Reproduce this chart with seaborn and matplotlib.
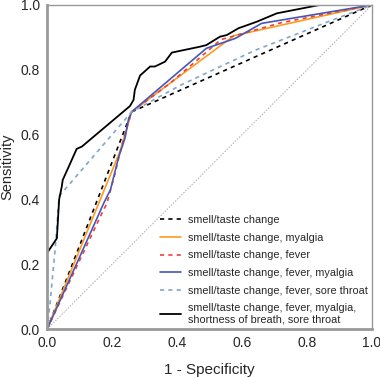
import numpy as np
import pandas as pd
import matplotlib
matplotlib.use('Agg')
import matplotlib.pyplot as plt
import seaborn as sns

sns.set_style('white')
plt.rcParams['font.family'] = ['Liberation Sans', 'DejaVu Sans']

# ROC curves (x = 1 - specificity, y = sensitivity)
smell_x = [0, 0.26, 1]
smell_y = [0, 0.67, 1]

myalgia_x = [0, 0.163, 0.225, 0.26, 0.41, 0.575, 1]
myalgia_y = [0, 0.398, 0.55, 0.67, 0.782, 0.905, 1]

fever_x = [0, 0.17, 0.184, 0.209, 0.23, 0.26, 0.378, 0.535, 0.72, 1]
fever_y = [0, 0.36, 0.388, 0.48, 0.568, 0.67, 0.758, 0.893, 0.945, 1]

fever_my_x = [0, 0.09, 0.175, 0.195, 0.22, 0.24, 0.25, 0.26, 0.49, 0.58, 0.66, 1]
fever_my_y = [0, 0.2, 0.39, 0.43, 0.53, 0.59, 0.645, 0.67, 0.866, 0.897, 0.943, 1]

sore_x = [0, 0.009, 0.025, 0.037, 0.26, 0.41, 0.64, 0.88, 1]
sore_y = [0, 0.08, 0.25, 0.41, 0.67, 0.752, 0.86, 0.954, 1]

full_x = [0, 0, 0.03, 0.037, 0.045, 0.048, 0.071, 0.091, 0.107, 0.255, 0.266, 0.27,
          0.286, 0.317, 0.332, 0.363, 0.384, 0.47, 0.49, 0.532, 0.553, 0.589, 0.645,
          0.707, 0.84, 1]
full_y = [0, 0.235, 0.28, 0.40, 0.439, 0.46, 0.511, 0.556, 0.563, 0.688, 0.707, 0.738,
          0.782, 0.81, 0.81, 0.825, 0.853, 0.871, 0.876, 0.902, 0.907, 0.928, 0.948,
          0.974, 1.0, 1.0]

labels = ['smell/taste change',
          'smell/taste change, myalgia',
          'smell/taste change, fever',
          'smell/taste change, fever, myalgia',
          'smell/taste change, fever, sore throat',
          'smell/taste change, fever, myalgia,\nshortness of breath, sore throat']

series = [(smell_x, smell_y, 'black', (0, (2.5, 2.5)), 1.2),
          (myalgia_x, myalgia_y, '#FF9A1F', '-', 1.2),
          (fever_x, fever_y, '#EE4040', (0, (2.5, 2.5)), 1.2),
          (fever_my_x, fever_my_y, '#4657B5', '-', 1.2),
          (sore_x, sore_y, '#7FA8C8', (0, (2.5, 2.5)), 1.2),
          (full_x, full_y, 'black', '-', 1.3)]

fig = plt.figure(figsize=(3.8, 3.77), dpi=100)
ax = fig.add_axes([0.124, 0.127, 0.855, 0.86])

# chance line
ax.plot([0, 1], [0, 1], color='#aaaaaa', lw=0.7, ls=(0, (1.5, 1.5)), zorder=1)

for (xs, ys, col, ls, lw), lab in zip(series, labels):
    df = pd.DataFrame({'x': xs, 'y': ys})
    sns.lineplot(data=df, x='x', y='y', ax=ax, color=col, linestyle=ls,
                 linewidth=lw, sort=False, estimator=None, label=lab)

ax.set_xlim(0, 1)
ax.set_ylim(0, 1)
ticks = [0.0, 0.2, 0.4, 0.6, 0.8, 1.0]
ax.set_xticks(ticks)
ax.set_yticks(ticks)
ax.set_xticklabels([f'{t:.1f}' for t in ticks])
ax.set_yticklabels([f'{t:.1f}' for t in ticks])
ax.tick_params(length=0, labelsize=10, pad=5)
ax.set_xlabel('1 - Specificity', fontsize=11, labelpad=9)
ax.set_ylabel('Sensitivity', fontsize=10.5, labelpad=4.5)

for side in ['top', 'right']:
    ax.spines[side].set_color('#999999')
    ax.spines[side].set_linewidth(1.0)
for side in ['left', 'bottom']:
    ax.spines[side].set_color('#999999')
    ax.spines[side].set_linewidth(2.0)

ax.legend(loc='lower right', frameon=False, fontsize=7.8, handlelength=2.0,
          handletextpad=0.6, labelspacing=0.7, borderaxespad=0.0)

plt.savefig('out.png', dpi=100)
